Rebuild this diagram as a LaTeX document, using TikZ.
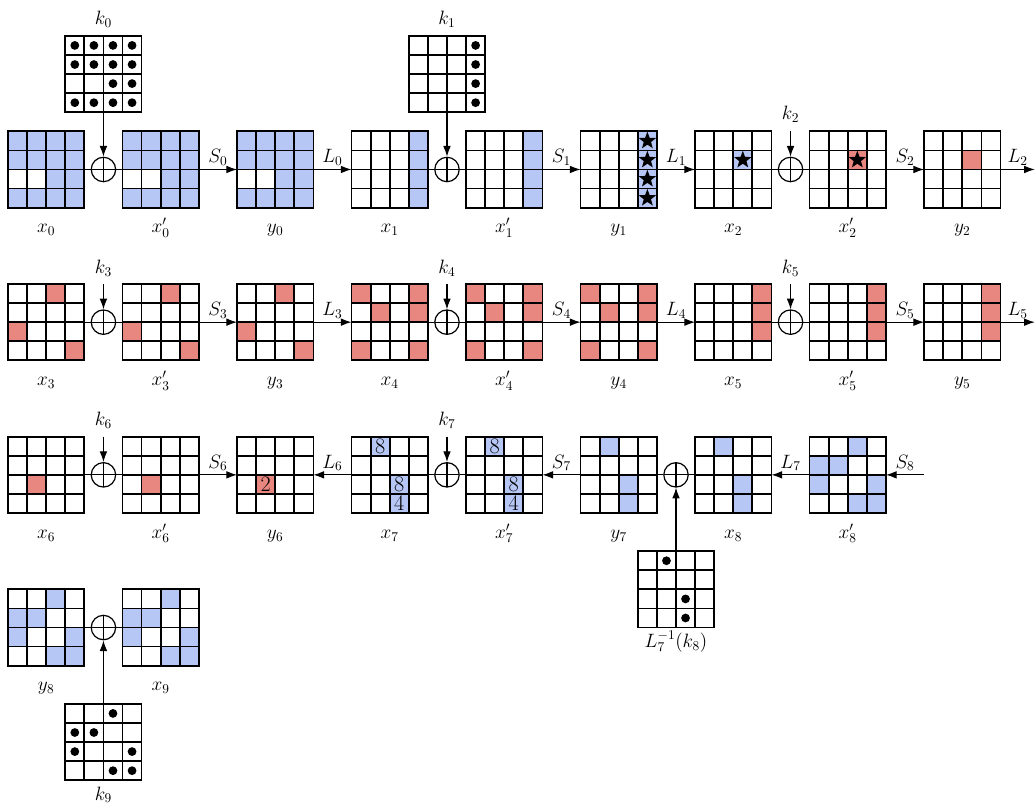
\documentclass[tikz,border=0pt]{standalone}
\usetikzlibrary{arrows.meta,shapes.geometric,calc}
\definecolor{cblue}{RGB}{183,199,245}
\definecolor{cred}{RGB}{232,134,128}
\tikzset{
  gridbox/.style={rectangle, minimum size=2cm, inner sep=0pt, outer sep=0pt},
  gridline/.style={line width=1.3pt, black},
  xor/.style={circle, draw, line width=0.9pt, minimum size=0.64cm, inner sep=0pt,
    path picture={\draw[line width=0.9pt] (path picture bounding box.north) -- (path picture bounding box.south)
      (path picture bounding box.west) -- (path picture bounding box.east);}},
  conn/.style={line width=0.8pt},
  arr/.style={line width=0.8pt, -{Latex[length=2.8mm,width=2mm]}},
  lab/.style={above, font=\Large, inner sep=2.5pt},
  nm/.style={anchor=base, font=\Large, inner sep=0pt},
  dotm/.style={circle, fill=black, minimum size=0.23cm, inner sep=0pt},
  starm/.style={star, star points=5, star point ratio=2.4, fill=black, minimum size=0.48cm, inner sep=0pt},
  numm/.style={font=\fontsize{16.5}{17}\selectfont, inner sep=0pt},
}
% grid with filled cells: name, position, colour, list r/c
\newcommand\FGrid[4]{%
  \node[gridbox] (#1) at (#2) {};
  \foreach \r/\c in {#4} {\fill[#3] ([shift={(0.5*\c,-0.5*\r)}]#1.north west) rectangle ++(0.5,-0.5);}
  \foreach \k in {0.5,1,1.5} {
    \draw[gridline] ([xshift=\k cm]#1.south west) -- ([xshift=\k cm]#1.north west);
    \draw[gridline] ([yshift=\k cm]#1.south west) -- ([yshift=\k cm]#1.south east);}
  \draw[gridline] (#1.south west) rectangle (#1.north east);
}
% key grid with dots: name, position, list r/c
\newcommand\KGrid[3]{%
  \node[gridbox] (#1) at (#2) {};
  \foreach \k in {0.5,1,1.5} {
    \draw[gridline] ([xshift=\k cm]#1.south west) -- ([xshift=\k cm]#1.north west);
    \draw[gridline] ([yshift=\k cm]#1.south west) -- ([yshift=\k cm]#1.south east);}
  \draw[gridline] (#1.south west) rectangle (#1.north east);
  \foreach \r/\c [count=\i] in {#3} {\node[dotm] (#1-d\i) at ([shift={(0.5*\c+0.25,-0.5*\r-0.25)}]#1.north west) {};}
}
% node in a cell: name, grid, row, col, style, text
\newcommand\CellNode[6]{\node[#5] (#1) at ([shift={(0.5*#4+0.25,-0.5*#3-0.25)}]#2.north west) {#6};}
% label under a grid: name, grid, text
\newcommand\Under[3]{\node[nm] (#1) at ([yshift=-1.66cm]#2.center) {#3};}

\begin{document}
\begin{tikzpicture}
\useasboundingbox (-0.21,-16.807) rectangle (26.905,4.44);

% ---------------- row 1 ----------------
\FGrid{x0}{1,0}{cblue}{0/0,0/1,0/2,0/3,1/0,1/1,1/2,1/3,2/2,2/3,3/0,3/1,3/2,3/3}
\FGrid{x0p}{4,0}{cblue}{0/0,0/1,0/2,0/3,1/0,1/1,1/2,1/3,2/2,2/3,3/0,3/1,3/2,3/3}
\FGrid{y0}{7,0}{cblue}{0/0,0/1,0/2,0/3,1/0,1/1,1/2,1/3,2/2,2/3,3/0,3/1,3/2,3/3}
\FGrid{x1}{10,0}{cblue}{0/3,1/3,2/3,3/3}
\FGrid{x1p}{13,0}{cblue}{0/3,1/3,2/3,3/3}
\FGrid{y1}{16,0}{cblue}{0/3,1/3,2/3,3/3}
\FGrid{x2}{19,0}{cblue}{1/2}
\FGrid{x2p}{22,0}{cred}{1/2}
\FGrid{y2}{25,0}{cred}{1/2}
\foreach \r in {0,1,2,3} {\CellNode{st\r}{y1}{\r}{3}{starm}{}}
\CellNode{stx2}{x2}{1}{2}{starm}{}
\CellNode{stx2p}{x2p}{1}{2}{starm}{}

\KGrid{k0}{2.5,2.5}{0/0,0/1,0/2,0/3,1/0,1/1,1/2,1/3,2/2,2/3,3/0,3/1,3/2,3/3}
\KGrid{k1}{11.5,2.5}{0/3,1/3,2/3,3/3}
\node[nm] (lk0) at ([yshift=0.3cm]k0.north) {$k_0$};
\node[nm] (lk1) at ([yshift=0.3cm]k1.north) {$k_1$};

\node[xor] (p0) at (2.5,0) {};
\node[xor] (p1) at (11.5,0) {};
\node[xor] (p2) at (20.5,0) {};
\coordinate (k2s) at (20.5,1);
\node[nm] (lk2) at (20.5,1.3) {$k_2$};
\coordinate (e2) at (26.9,0);

\Under{lx0}{x0}{$x_0$}
\Under{lx0p}{x0p}{$x_0'$}
\Under{ly0}{y0}{$y_0$}
\Under{lx1}{x1}{$x_1$}
\Under{lx1p}{x1p}{$x_1'$}
\Under{ly1}{y1}{$y_1$}
\Under{lx2}{x2}{$x_2$}
\Under{lx2p}{x2p}{$x_2'$}
\Under{ly2}{y2}{$y_2$}

\draw[conn] (x0) -- (p0);
\draw[conn] (p0) -- (x0p);
\draw[arr] (x0p) -- node[lab] (lS0) {$S_0$} (y0);
\draw[arr] (y0) -- node[lab] (lL0) {$L_0$} (x1);
\draw[conn] (x1) -- (p1);
\draw[conn] (p1) -- (x1p);
\draw[arr] (x1p) -- node[lab] (lS1) {$S_1$} (y1);
\draw[arr] (y1) -- node[lab] (lL1) {$L_1$} (x2);
\draw[conn] (x2) -- (p2);
\draw[conn] (p2) -- (x2p);
\draw[arr] (x2p) -- node[lab] (lS2) {$S_2$} (y2);
\draw[arr] (y2) -- node[lab] (lL2) {$L_2$} (e2);
\draw[arr] (k0) -- (p0);
\draw[arr] (k1) -- (p1);
\draw[arr] (k2s) -- (p2);

% ---------------- row 2 ----------------
\FGrid{x3}{1,-4}{cred}{0/2,2/0,3/3}
\FGrid{x3p}{4,-4}{cred}{0/2,2/0,3/3}
\FGrid{y3}{7,-4}{cred}{0/2,2/0,3/3}
\FGrid{x4}{10,-4}{cred}{0/0,0/3,1/1,1/3,3/0,3/3}
\FGrid{x4p}{13,-4}{cred}{0/0,0/3,1/1,1/3,3/0,3/3}
\FGrid{y4}{16,-4}{cred}{0/0,0/3,1/1,1/3,3/0,3/3}
\FGrid{x5}{19,-4}{cred}{0/3,1/3,2/3}
\FGrid{x5p}{22,-4}{cred}{0/3,1/3,2/3}
\FGrid{y5}{25,-4}{cred}{0/3,1/3,2/3}

\node[xor] (p3) at (2.5,-4) {};
\node[xor] (p4) at (11.5,-4) {};
\node[xor] (p5) at (20.5,-4) {};
\coordinate (k3s) at (2.5,-3);
\coordinate (k4s) at (11.5,-3);
\coordinate (k5s) at (20.5,-3);
\node[nm] (lk3) at (2.5,-2.72) {$k_3$};
\node[nm] (lk4) at (11.5,-2.72) {$k_4$};
\node[nm] (lk5) at (20.5,-2.72) {$k_5$};
\coordinate (e5) at (26.9,-4);

\Under{lx3}{x3}{$x_3$}
\Under{lx3p}{x3p}{$x_3'$}
\Under{ly3}{y3}{$y_3$}
\Under{lx4}{x4}{$x_4$}
\Under{lx4p}{x4p}{$x_4'$}
\Under{ly4}{y4}{$y_4$}
\Under{lx5}{x5}{$x_5$}
\Under{lx5p}{x5p}{$x_5'$}
\Under{ly5}{y5}{$y_5$}

\draw[conn] (x3) -- (p3);
\draw[conn] (p3) -- (x3p);
\draw[arr] (x3p) -- node[lab] (lS3) {$S_3$} (y3);
\draw[arr] (y3) -- node[lab] (lL3) {$L_3$} (x4);
\draw[conn] (x4) -- (p4);
\draw[conn] (p4) -- (x4p);
\draw[arr] (x4p) -- node[lab] (lS4) {$S_4$} (y4);
\draw[arr] (y4) -- node[lab] (lL4) {$L_4$} (x5);
\draw[conn] (x5) -- (p5);
\draw[conn] (p5) -- (x5p);
\draw[arr] (x5p) -- node[lab] (lS5) {$S_5$} (y5);
\draw[arr] (y5) -- node[lab] (lL5) {$L_5$} (e5);
\draw[arr] (k3s) -- (p3);
\draw[arr] (k4s) -- (p4);
\draw[arr] (k5s) -- (p5);

% ---------------- row 3 ----------------
\FGrid{x6}{1,-8}{cred}{2/1}
\FGrid{x6p}{4,-8}{cred}{2/1}
\FGrid{y6}{7,-8}{cred}{2/1}
\FGrid{x7}{10,-8}{cblue}{0/1,2/2,3/2}
\FGrid{x7p}{13,-8}{cblue}{0/1,2/2,3/2}
\FGrid{y7}{16,-8}{cblue}{0/1,2/2,3/2}
\FGrid{x8}{19,-8}{cblue}{0/1,2/2,3/2}
\FGrid{x8p}{22,-8}{cblue}{0/2,1/0,1/1,2/0,2/3,3/2,3/3}
\CellNode{ny6}{y6}{2}{1}{numm}{2}
\CellNode{nx7a}{x7}{0}{1}{numm}{8}
\CellNode{nx7b}{x7}{2}{2}{numm}{8}
\CellNode{nx7c}{x7}{3}{2}{numm}{4}
\CellNode{nx7pa}{x7p}{0}{1}{numm}{8}
\CellNode{nx7pb}{x7p}{2}{2}{numm}{8}
\CellNode{nx7pc}{x7p}{3}{2}{numm}{4}

\node[xor] (p6) at (2.5,-8) {};
\node[xor] (p7) at (11.5,-8) {};
\node[xor] (p8) at (17.5,-8) {};
\coordinate (k6s) at (2.5,-7);
\coordinate (k7s) at (11.5,-7);
\node[nm] (lk6) at (2.5,-6.72) {$k_6$};
\node[nm] (lk7) at (11.5,-6.72) {$k_7$};
\coordinate (s8) at (24,-8);

\KGrid{k8}{17.5,-11}{0/1,2/2,3/2}
\node[nm] (lk8) at ([yshift=-1.52cm]k8.center) {$L_7^{-1}(k_8)$};

\Under{lx6}{x6}{$x_6$}
\Under{lx6p}{x6p}{$x_6'$}
\Under{ly6}{y6}{$y_6$}
\Under{lx7}{x7}{$x_7$}
\Under{lx7p}{x7p}{$x_7'$}
\Under{ly7}{y7}{$y_7$}
\Under{lx8}{x8}{$x_8$}
\Under{lx8p}{x8p}{$x_8'$}

\draw[conn] (x6) -- (p6);
\draw[conn] (p6) -- (x6p);
\draw[arr] (x6p) -- node[lab] (lS6) {$S_6$} (y6);
\draw[arr] (x7) -- node[lab] (lL6) {$L_6$} (y6);
\draw[conn] (x7) -- (p7);
\draw[conn] (p7) -- (x7p);
\draw[arr] (y7) -- node[lab] (lS7) {$S_7$} (x7p);
\draw[conn] (y7) -- (p8);
\draw[conn] (p8) -- (x8);
\draw[arr] (x8p) -- node[lab] (lL7) {$L_7$} (x8);
\draw[arr] (s8) -- node[lab] (lS8) {$S_8$} (x8p);
\draw[arr] (k6s) -- (p6);
\draw[arr] (k7s) -- (p7);
\draw[arr] (k8) -- (p8);

% ---------------- row 4 ----------------
\FGrid{y8}{1,-12}{cblue}{0/2,1/0,1/1,2/0,2/3,3/2,3/3}
\FGrid{x9}{4,-12}{cblue}{0/2,1/0,1/1,2/0,2/3,3/2,3/3}
\node[xor] (p9) at (2.5,-12) {};
\KGrid{k9}{2.5,-15}{0/2,1/0,1/1,2/0,2/3,3/2,3/3}
\node[nm] (lk9) at ([yshift=-1.52cm]k9.center) {$k_9$};
\Under{ly8}{y8}{$y_8$}
\Under{lx9}{x9}{$x_9$}

\draw[conn] (y8) -- (p9);
\draw[conn] (p9) -- (x9);
\draw[arr] (k9) -- (p9);
\end{tikzpicture}
\end{document}
